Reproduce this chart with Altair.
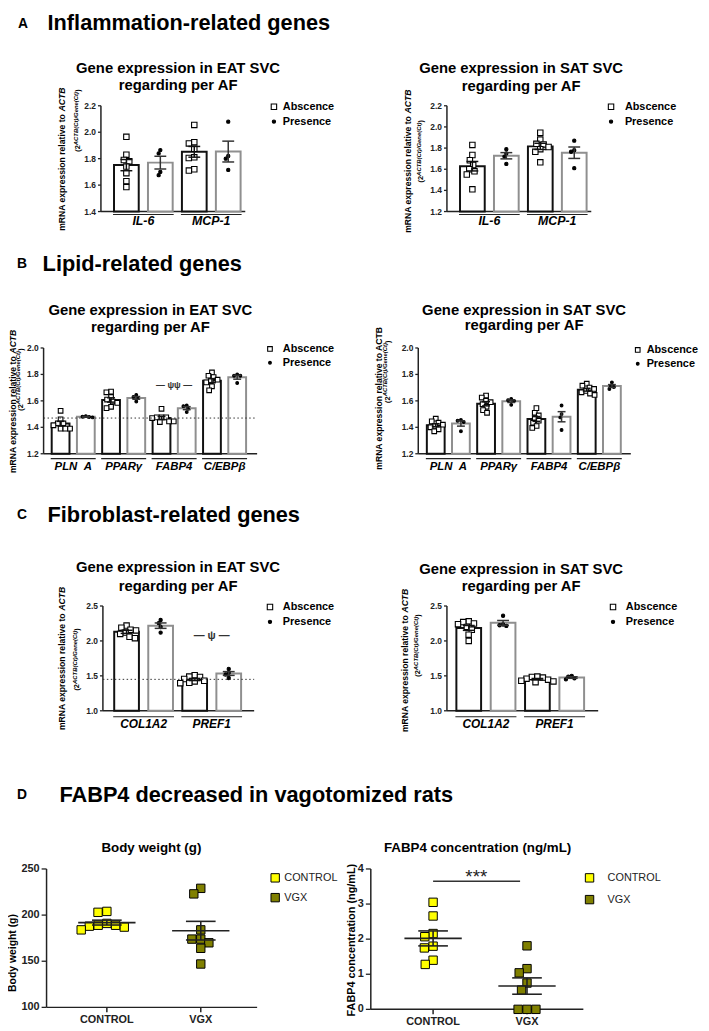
import altair as alt
import pandas as pd

FONT = "Liberation Sans"
OX, OY = 8, 8
W, H = 701, 1023
GROUPS = ["Abscence", "Presence"]

# ---------------- data ----------------
genes_A = ["IL-6", "MCP-1"]
eat_A_abs = [[1.965, 1.83, 1.79, 1.78, 1.74, 1.69, 1.63, 1.585],
             [2.055, 1.925, 1.915, 1.875, 1.81, 1.805, 1.72, 1.71]]
eat_A_pres = [[1.865, 1.84, 1.70, 1.675], [2.08, 1.82, 1.80, 1.715]]
sat_A_abs = [[1.83, 1.735, 1.685, 1.64, 1.60, 1.58, 1.55, 1.41],
             [1.945, 1.88, 1.84, 1.835, 1.81, 1.79, 1.765, 1.665]]
sat_A_pres = [[1.79, 1.75, 1.72, 1.65], [1.87, 1.78, 1.765, 1.61]]

genes_B = ["PLN\u00a0\u00a0A", "PPAR\u03b3", "FABP4", "C/EBP\u03b2"]
eat_B_abs = [[1.525, 1.46, 1.43, 1.43, 1.415, 1.39, 1.39, 1.39],
             [1.67, 1.665, 1.63, 1.61, 1.595, 1.585, 1.555, 1.545],
             [1.54, 1.475, 1.475, 1.475, 1.47, 1.445, 1.445, 1.44],
             [1.815, 1.79, 1.78, 1.76, 1.75, 1.74, 1.71, 1.68]]
eat_B_pres = [[1.485, 1.48, 1.478, 1.475], [1.645, 1.63, 1.62, 1.595],
              [1.565, 1.56, 1.54, 1.515], [1.80, 1.79, 1.79, 1.735]]
sat_B_abs = [[1.465, 1.445, 1.435, 1.42, 1.41, 1.40, 1.385, 1.37],
             [1.64, 1.625, 1.60, 1.59, 1.575, 1.555, 1.53, 1.51],
             [1.545, 1.51, 1.49, 1.47, 1.45, 1.435, 1.41, 1.395],
             [1.73, 1.715, 1.70, 1.69, 1.675, 1.665, 1.655, 1.645]]
sat_B_pres = [[1.455, 1.45, 1.44, 1.37], [1.615, 1.605, 1.60, 1.57],
              [1.565, 1.50, 1.475, 1.38], [1.74, 1.715, 1.705, 1.69]]
ref_B = 1.47
sig_B = {"gene": 2, "label": "\u2014 \u03c8\u03c8 \u2014", "y": 1.72}

genes_C = ["COL1A2", "PREF1"]
eat_C_abs = [[2.22, 2.19, 2.16, 2.15, 2.12, 2.10, 2.06, 2.04],
             [1.51, 1.49, 1.485, 1.455, 1.43, 1.42, 1.40, 1.395]]
eat_C_pres = [[2.30, 2.255, 2.20, 2.12], [1.60, 1.545, 1.52, 1.47]]
sat_C_abs = [[2.28, 2.27, 2.25, 2.24, 2.20, 2.16, 2.09, 2.00],
             [1.49, 1.485, 1.475, 1.46, 1.445, 1.43, 1.42, 1.41]]
sat_C_pres = [[2.36, 2.235, 2.225, 2.215], [1.50, 1.49, 1.465, 1.45]]
ref_C = 1.45
sig_C = {"gene": 1, "label": "\u2014 \u03c8 \u2014", "y": 2.075}

groups_D = ["CONTROL", "VGX"]
bw_control = [189, 188, 204, 184, 187, 203, 189, 191]
bw_vgx = [229, 223, 184, 174, 170, 174, 164, 147]
fabp4_control = [3.05, 2.66, 2.16, 2.07, 1.80, 1.75, 1.40, 1.28]
fabp4_vgx = [1.81, 1.16, 1.04, 0.75, 0.55, 0.0, 0.0, 0.0]
sig_D = {"label": "***", "y": 3.65}

ONE = pd.DataFrame({"k": [0]})
DOT = "M0,-0.6A0.6,0.6,0,1,1,0,0.6A0.6,0.6,0,1,1,0,-0.6Z"
AX = "#222222"


def swarm(vals, ppv, d):
    n = len(vals)
    out = [0.0] * n
    placed = []
    for i in sorted(range(n), key=lambda j: -vals[j]):
        y = vals[i] * ppv
        iv, cands = [], [0.0]
        for py, px in placed:
            dy = abs(py - y)
            if dy < d:
                h = (d * d - dy * dy) ** 0.5
                iv.append((px - h, px + h))
                cands += [px - h, px + h]
        for cnd in sorted(cands, key=lambda v: (round(abs(v), 6), v)):
            if all(not (a + 1e-6 < cnd < b - 1e-6) for a, b in iv):
                out[i] = cnd
                break
        placed.append((y, out[i]))
    return out


def txt(s, x, y, size, weight="bold", style="normal", align="center",
        baseline="middle", angle=0, color="black"):
    return alt.Chart(ONE).mark_text(
        text=s, font=FONT, fontSize=size, fontWeight=weight, fontStyle=style,
        align=align, baseline=baseline, angle=angle, fill=color
    ).encode(x=alt.value(x - OX), y=alt.value(y - OY))


def ytitle(x1, yc1, x2, yc2, italic):
    fs1 = 8.7
    w_main = 13.893 * fs1
    L = w_main + 2.777 * fs1
    y0 = yc1 + L / 2
    out = []
    if italic:
        out.append(txt("mRNA expression relative to", x1, y0, fs1, align="left", angle=270))
        out.append(txt("ACTB", x1, y0 - w_main, fs1, style="italic", align="left", angle=270))
    else:
        out.append(txt("mRNA expression relative to ACTB", x1, yc1, fs1, angle=270))
    fa, fsup = 7.5, 6.0
    wa, ws = 0.889 * fa, 8.998 * fsup
    y0 = yc2 + (wa + ws + 0.333 * fa) / 2
    out.append(txt("(2", x2, y0, fa, align="left", angle=270))
    out.append(txt("ACTB(Ct)/Gene(Ct)", x2 - 2.6, y0 - wa, fsup, style="italic", align="left", angle=270))
    out.append(txt(")", x2, y0 - wa - ws, fa, align="left", angle=270))
    return out


def y_axis(xsc, ysc, xdom, ydom, ticks, fmt, tsize, fs):
    tdf = pd.DataFrame({"v": ticks, "lab": [format(t, fmt) for t in ticks]})
    dom = alt.Chart(ONE).mark_rule(color=AX, strokeWidth=1.5).encode(
        x=alt.XDatum(xdom[0], scale=xsc, axis=None),
        y=alt.YDatum(ydom[0], scale=ysc, axis=None), y2=alt.Y2Datum(ydom[1]))
    tk = alt.Chart(tdf).mark_rule(color=AX, strokeWidth=1.3, x2Offset=-tsize).encode(
        x=alt.XDatum(xdom[0], scale=xsc, axis=None), x2=alt.X2Datum(xdom[0]),
        y=alt.Y("v:Q", scale=ysc, axis=None))
    lb = alt.Chart(tdf).mark_text(align="right", baseline="middle", dx=-(tsize + 2), font=FONT,
                                  fontSize=fs, fontWeight="bold", fill=AX).encode(
        x=alt.XDatum(xdom[0], scale=xsc, axis=None), y=alt.Y("v:Q", scale=ysc, axis=None),
        text="lab:N")
    xdomline = alt.Chart(ONE).mark_rule(color=AX, strokeWidth=1.5).encode(
        x=alt.XDatum(xdom[0], scale=xsc, axis=None), x2=alt.X2Datum(xdom[1]),
        y=alt.YDatum(ydom[0], scale=ysc, axis=None))
    return [dom, tk, lb, xdomline]


def legend_layers(sym_x, text_x, y1, gap, size):
    ldf = pd.DataFrame({"group": GROUPS})
    ly = alt.Y("group:N", scale=alt.Scale(domain=GROUPS, range=[y1 - OY, y1 + gap - OY], padding=0),
               axis=None)
    mk = alt.Chart(ldf).mark_point(size=size, stroke="black", strokeWidth=1.1, opacity=1).encode(
        x=alt.value(sym_x - OX), y=ly,
        shape=alt.Shape("group:N", scale=alt.Scale(domain=GROUPS, range=["square", DOT]), legend=None),
        fill=alt.Fill("group:N", scale=alt.Scale(domain=GROUPS, range=["white", "black"]), legend=None))
    tx = alt.Chart(ldf).mark_text(align="left", baseline="middle", font=FONT, fontSize=11,
                                  fontWeight="bold", fill="black").encode(
        x=alt.value(text_x - OX), y=ly, text="group:N")
    return alt.layer(mk, tx)


def bar_panel(genes, abs_pts, pres_pts, c):
    ydom = c["ydom"]
    y_top, y_bot = c["y_top"], c["y_bot"]
    ax0, ax1, c0, step = c["ax0"], c["ax1"], c["c0"], c["step"]
    xdom = [-(c0 - ax0) / step, (ax1 - c0) / step]
    xsc = alt.Scale(domain=xdom, range=[ax0 - OX, ax1 - OX], nice=False, zero=False)
    ysc = alt.Scale(domain=ydom, range=[y_bot - OY, y_top - OY], nice=False, zero=False)
    ppv = (y_bot - y_top) / (ydom[1] - ydom[0])
    rows = []
    for gi, g in enumerate(genes):
        for k, (grp, pts) in enumerate(((GROUPS[0], abs_pts[gi]), (GROUPS[1], pres_pts[gi]))):
            pos = 2 * gi + k
            offs = swarm(pts, ppv, c["d"][k])
            for v, o in zip(pts, offs):
                rows.append({"gene": g, "group": grp, "pos": pos, "value": v, "xj": pos + o / step})
    df = pd.DataFrame(rows)
    base = alt.Chart(df)
    agg = base.transform_aggregate(
        mean="mean(value)", sem="stderr(value)", groupby=["gene", "group", "pos"]
    ).transform_calculate(lo="datum.mean - datum.sem", hi="datum.mean + datum.sem")
    stroke_sc = alt.Scale(domain=GROUPS, range=["#111111", "#8f8f8f"])
    err_sc = alt.Scale(domain=GROUPS, range=["#111111", "#333333"])

    bars = agg.mark_bar(size=c["bw"], fill="white", strokeWidth=2, orient="vertical").encode(
        x=alt.X("pos:Q", scale=xsc, axis=None),
        y=alt.Y("mean:Q", scale=ysc, axis=None),
        y2=alt.Y2Datum(ydom[0]),
        stroke=alt.Stroke("group:N", scale=stroke_sc, legend=None),
    )
    pts = base.mark_point(size=c["size"], stroke="black", strokeWidth=1.1, opacity=1).encode(
        x=alt.X("xj:Q", scale=xsc, axis=None),
        y=alt.Y("value:Q", scale=ysc, axis=None),
        shape=alt.Shape("group:N", scale=alt.Scale(domain=GROUPS, range=["square", DOT]), legend=None),
        fill=alt.Fill("group:N", scale=alt.Scale(domain=GROUPS, range=["white", "black"]), legend=None),
    )
    err = agg.mark_rule(strokeWidth=1.5).encode(
        x=alt.X("pos:Q", scale=xsc, axis=None),
        y=alt.Y("lo:Q", scale=ysc, axis=None), y2="hi:Q",
        color=alt.Color("group:N", scale=err_sc, legend=None),
    )
    caps = agg.transform_fold(["lo", "hi"], as_=["k", "v"]).mark_rule(
        strokeWidth=1.5, xOffset=-c["cap"] / 2, x2Offset=c["cap"] / 2
    ).encode(
        x=alt.X("pos:Q", scale=xsc, axis=None), x2="pos:Q",
        y=alt.Y("v:Q", scale=ysc, axis=None),
        color=alt.Color("group:N", scale=err_sc, legend=None),
    )
    ul_df = pd.DataFrame({"gene": genes, "p0": [2 * i for i in range(len(genes))],
                          "p1": [2 * i + 1 for i in range(len(genes))],
                          "mid": [2 * i + 0.5 for i in range(len(genes))]})
    ul = alt.Chart(ul_df).mark_rule(
        strokeWidth=1.2, color=AX, xOffset=-c["bw"] / 2 - 1, x2Offset=c["bw"] / 2 + 1,
        yOffset=c["uoff"]
    ).encode(x=alt.X("p0:Q", scale=xsc, axis=None), x2="p1:Q",
             y=alt.YDatum(ydom[0], scale=ysc, axis=None))
    glab = alt.Chart(ul_df).mark_text(
        baseline="top", dy=c["lpad"], font=FONT, fontSize=c["gfs"], fontWeight="bold",
        fontStyle="italic", fill="black"
    ).encode(x=alt.X("mid:Q", scale=xsc, axis=None),
             y=alt.YDatum(ydom[0], scale=ysc, axis=None), text="gene:N")
    layers = y_axis(xsc, ysc, xdom, ydom, c["yticks"], ".1f", 3, 8.5)
    layers += [bars, pts, err, caps, ul, glab]
    if c.get("ref") is not None:
        layers.append(alt.Chart(ONE).mark_rule(strokeDash=[1.5, 2.5], color="#333", strokeWidth=1).encode(
            x=alt.XDatum(xdom[0], scale=xsc, axis=None), x2=alt.X2Datum(xdom[1]),
            y=alt.YDatum(c["ref"], scale=ysc, axis=None)))
    if c.get("sig") is not None:
        s = c["sig"]
        sdf = pd.DataFrame({"x": [2 * s["gene"] + 0.5], "y": [s["y"]], "t": [s["label"]]})
        layers.append(alt.Chart(sdf).mark_text(font=FONT, fontSize=c["sfs"], fontWeight="bold",
                                               fill="#333333", baseline="middle").encode(
            x=alt.X("x:Q", scale=xsc, axis=None), y=alt.Y("y:Q", scale=ysc, axis=None), text="t:N"))
    panel = alt.layer(*layers)
    t = c["title"]
    out = [panel, legend_layers(c["leg"][0], c["leg"][2], c["leg"][1], c["lgap"], c["size"])]
    out += [txt(t[0], t[1], t[2], 15), txt(t[3], t[1], t[4], 15)]
    out += ytitle(*c["yt"])
    return out


def dot_panel(series, c):
    ydom = c["ydom"]
    y_top, y_bot = c["y_top"], c["y_bot"]
    ax0, ax1, c0, step = c["ax0"], c["ax1"], c["c0"], c["step"]
    xdom = [-(c0 - ax0) / step, (ax1 - c0) / step]
    xsc = alt.Scale(domain=xdom, range=[ax0 - OX, ax1 - OX], nice=False, zero=False)
    ysc = alt.Scale(domain=ydom, range=[y_bot - OY, y_top - OY], nice=False, zero=False)
    ppv = (y_bot - y_top) / (ydom[1] - ydom[0])
    rows = []
    for k, (cat, pts) in enumerate(zip(groups_D, series)):
        offs = swarm(pts, ppv, c["d"])
        for v, o in zip(pts, offs):
            rows.append({"cat": cat, "pos": k, "value": v, "xj": k + o / step})
    df = pd.DataFrame(rows)
    base = alt.Chart(df)
    agg = base.transform_aggregate(
        mean="mean(value)", sem="stderr(value)", groupby=["cat", "pos"]
    ).transform_calculate(lo="datum.mean - datum.sem", hi="datum.mean + datum.sem")
    sw = c["size"] ** 0.5
    leg = alt.Legend(orient="none", legendX=c["leg"][0] - sw / 2 - OX,
                     legendY=c["leg"][1] - 5.5 - OY, title=None, labelFont=FONT,
                     labelFontSize=11, labelFontWeight="normal", labelColor="#222",
                     symbolType="square", symbolStrokeColor="black", symbolStrokeWidth=1,
                     symbolSize=c["size"], rowPadding=c["lgap"] - 11,
                     labelOffset=c["leg"][2] - (c["leg"][0] + sw / 2), padding=0, symbolOpacity=1)
    pts = base.mark_point(shape="square", filled=True, size=c["size"], stroke="black",
                          strokeWidth=1, opacity=1).encode(
        x=alt.X("xj:Q", scale=xsc, axis=None),
        y=alt.Y("value:Q", scale=ysc, axis=None),
        fill=alt.Fill("cat:N", scale=alt.Scale(domain=groups_D, range=["#ffff00", "#808000"]), legend=leg),
    )
    mean = agg.mark_rule(strokeWidth=1.6, color=AX, xOffset=-29, x2Offset=29).encode(
        x=alt.X("pos:Q", scale=xsc, axis=None), x2="pos:Q", y=alt.Y("mean:Q", scale=ysc, axis=None))
    err = agg.mark_rule(strokeWidth=1.6, color=AX).encode(
        x=alt.X("pos:Q", scale=xsc, axis=None), y=alt.Y("lo:Q", scale=ysc, axis=None), y2="hi:Q")
    caps = agg.transform_fold(["lo", "hi"], as_=["k", "v"]).mark_rule(
        strokeWidth=1.6, color=AX, xOffset=-15, x2Offset=15).encode(
        x=alt.X("pos:Q", scale=xsc, axis=None), x2="pos:Q", y=alt.Y("v:Q", scale=ysc, axis=None))
    cdf = pd.DataFrame({"cat": groups_D, "pos": list(range(len(groups_D)))})
    xt = alt.Chart(cdf).mark_rule(color=AX, strokeWidth=1.5, y2Offset=5).encode(
        x=alt.X("pos:Q", scale=xsc, axis=None),
        y=alt.YDatum(ydom[0], scale=ysc, axis=None), y2=alt.Y2Datum(ydom[0]))
    xl = alt.Chart(cdf).mark_text(baseline="top", dy=7, font=FONT, fontSize=11, fontWeight="bold",
                                  fill=AX).encode(
        x=alt.X("pos:Q", scale=xsc, axis=None),
        y=alt.YDatum(ydom[0], scale=ysc, axis=None), text="cat:N")
    layers = y_axis(xsc, ysc, xdom, ydom, c["yticks"], "d", 5, 11)
    layers += [xt, xl, pts, mean, err, caps]
    if c.get("sig") is not None:
        s = c["sig"]
        layers.append(alt.Chart(ONE).mark_rule(strokeWidth=1.6, color="#333", x2Offset=-7).encode(
            x=alt.XDatum(0, scale=xsc, axis=None), x2=alt.X2Datum(1),
            y=alt.YDatum(s["y"], scale=ysc, axis=None)))
        layers.append(alt.Chart(ONE).mark_text(text=s["label"], font=FONT, fontSize=19,
                                               fill="#222", baseline="alphabetic", dy=2).encode(
            x=alt.XDatum(0.46, scale=xsc, axis=None), y=alt.YDatum(s["y"], scale=ysc, axis=None)))
    panel = alt.layer(*layers)
    t = c["title"]
    return [panel, txt(t[0], t[1], t[2], 13.5),
            txt(c["yt"][0], c["yt"][1], c["yt"][2], c["yt"][3], angle=270)]


common_AC = dict(bw=25, cap=12, size=30, d=[6, 3.8], gfs=12.5, step=36.7)
cfg_A_eat = dict(common_AC, ydom=[1.4, 2.2], yticks=[1.4, 1.6, 1.8, 2.0, 2.2], y_top=101, y_bot=208,
                 ax0=97, ax1=253, c0=124.5, lpad=4, uoff=3,
                 title=("Gene expression in EAT SVC", 180, 63, "regarding per AF", 80),
                 leg=(277, 102, 286), lgap=15, yt=(63, 155, 79, 116, True))
cfg_A_sat = dict(common_AC, ydom=[1.2, 2.2], yticks=[1.2, 1.4, 1.6, 1.8, 2.0, 2.2], y_top=101, y_bot=208,
                 ax0=447, ax1=603, c0=474.5, lpad=4, uoff=3,
                 title=("Gene expression in SAT SVC", 527, 63, "regarding per AF", 81),
                 leg=(618, 102, 632), lgap=15, yt=(413, 157, 426, 147, True))
common_B = dict(bw=18, cap=8, size=22, d=[5, 3.6], gfs=11.5, lpad=7, uoff=5,
                ydom=[1.2, 2.0], yticks=[1.2, 1.4, 1.6, 1.8, 2.0], y_top=346, y_bot=453, lgap=14)
cfg_B_eat = dict(common_B, ax0=39, ax1=265, c0=57, step=26.7, ref=ref_B, sig=sig_B, sfs=9,
                 title=("Gene expression in EAT SVC", 152, 308, "regarding per AF", 325),
                 leg=(273, 347, 286), yt=(13, 400, 21, 378, True))
cfg_B_sat = dict(common_B, ax0=418, ax1=643, c0=436.5, step=26.64,
                 title=("Gene expression in SAT SVC", 530, 308, "regarding per AF", 323),
                 leg=(645, 348, 654), yt=(383, 397, 392, 370, False))
common_C = dict(common_AC, ydom=[1.0, 2.5], yticks=[1.0, 1.5, 2.0, 2.5], y_top=607, y_bot=713,
                gfs=12, lpad=8, uoff=6, lgap=15)
cfg_C_eat = dict(common_C, ax0=99, ax1=262, c0=124.5, ref=ref_C, sig=sig_C, sfs=11,
                 title=("Gene expression in EAT SVC", 180, 568, "regarding per AF", 587),
                 leg=(273, 608, 286), yt=(63, 660, 78, 661, True))
cfg_C_sat = dict(common_C, ax0=447, ax1=610, c0=470.5, step=37,
                 title=("Gene expression in SAT SVC", 527, 570, "regarding per AF", 587),
                 leg=(620, 608, 633), yt=(410, 662, 423, 647, True))
cfg_D_bw = dict(ydom=[100, 250], yticks=[100, 150, 200, 250], y_top=873, y_bot=1013,
                ax0=47, ax1=260, c0=108, step=95, size=72, d=9,
                title=("Body weight (g)", 153, 852), leg=(277, 882, 285), lgap=18,
                yt=("Body weight (g)", 13, 958, 10.5))
cfg_D_fabp = dict(ydom=[0, 4], yticks=[0, 1, 2, 3, 4], y_top=873, y_bot=1015,
                  ax0=375, ax1=590, c0=438, step=95, size=72, d=9, sig=sig_D,
                  title=("FABP4 concentration (ng/mL)", 483, 852), leg=(595, 882, 612), lgap=20,
                  yt=("FABP4 concentration (ng/mL)", 356, 945, 11))

layers = []
layers += bar_panel(genes_A, eat_A_abs, eat_A_pres, cfg_A_eat)
layers += bar_panel(genes_A, sat_A_abs, sat_A_pres, cfg_A_sat)
layers += bar_panel(genes_B, eat_B_abs, eat_B_pres, cfg_B_eat)
layers += bar_panel(genes_B, sat_B_abs, sat_B_pres, cfg_B_sat)
layers += bar_panel(genes_C, eat_C_abs, eat_C_pres, cfg_C_eat)
layers += bar_panel(genes_C, sat_C_abs, sat_C_pres, cfg_C_sat)
layers += dot_panel([bw_control, bw_vgx], cfg_D_bw)
layers += dot_panel([fabp4_control, fabp4_vgx], cfg_D_fabp)

layers += [
    txt("A", 18, 22, 14, align="left", baseline="alphabetic"),
    txt("Inflammation-related genes", 48, 24, 22, align="left", baseline="alphabetic"),
    txt("B", 17, 265, 14, align="left", baseline="alphabetic"),
    txt("Lipid-related genes", 43, 268, 22, align="left", baseline="alphabetic"),
    txt("C", 17, 519, 14, align="left", baseline="alphabetic"),
    txt("Fibroblast-related genes", 48, 522, 22, align="left", baseline="alphabetic"),
    txt("D", 17, 802, 14, align="left", baseline="alphabetic"),
    txt("FABP4 decreased in vagotomized rats", 60, 805, 22, align="left", baseline="alphabetic"),
]

chart = alt.layer(*layers).resolve_scale(
    x="independent", y="independent", fill="independent", shape="independent",
    stroke="independent", color="independent"
).resolve_legend(fill="independent", shape="independent").properties(
    width=W, height=H, padding=0, autosize=alt.AutoSizeParams(type="none"), background="white"
).configure_view(stroke=None)

chart.save("out.html", embed_options={"renderer": "svg", "actions": False})
